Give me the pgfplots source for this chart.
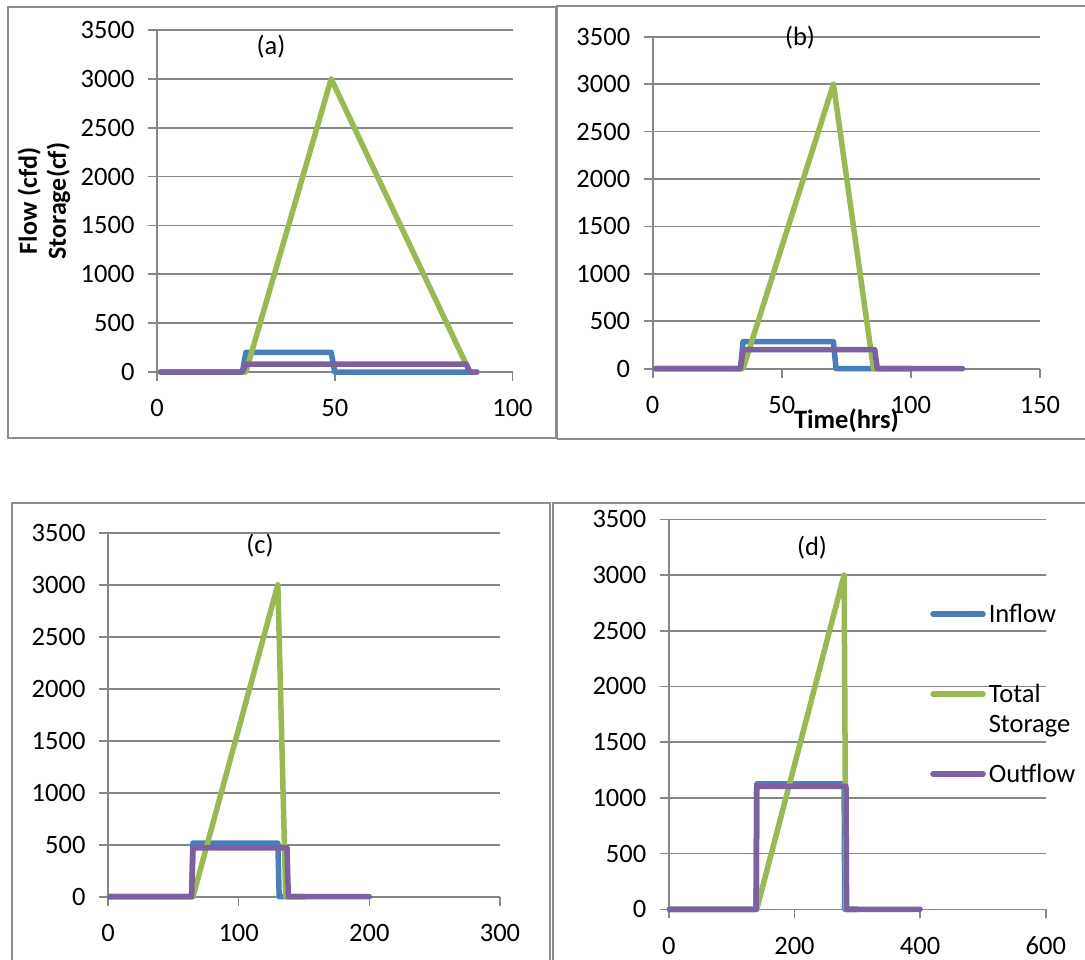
\documentclass[border=0pt]{standalone}
\usepackage{fontspec}
\setmainfont{Carlito}
\usepackage{pgfplots}
\pgfplotsset{compat=1.18}
\definecolor{cin}{HTML}{4A7EBB}
\definecolor{cst}{HTML}{98B954}
\definecolor{cout}{HTML}{7D60A0}
\definecolor{gridc}{HTML}{868686}
\definecolor{framec}{HTML}{8C8C8C}
\newcommand{\bigf}{\fontsize{26.5}{30}\selectfont}
\newcommand{\lgrow}[1]{\smash{#1}\rule[-62pt]{0pt}{80pt}}
\pgfplotsset{
  panel/.style={
    scale only axis, anchor=south west, clip=false,
    axis x line*=bottom, axis y line*=left, tick pos=left,
    xmin=0, ymin=0, ymax=3500, ytick={0,500,...,3500},
    ymajorgrids,
    grid style={gridc, line width=1.6pt},
    axis line style={gridc, line width=1.6pt},
    major tick style={gridc, line width=1.6pt},
    tick align=outside, major tick length=9pt,
    /pgf/number format/assume math mode=true,
    /pgf/number format/1000 sep={},
    tick label style={font=\bigf},
    yticklabel style={xshift=-10pt},
    xticklabel style={yshift=-15pt},
    every axis plot/.append style={line width=5.5pt, line join=round, line cap=round, no markers},
  }
}
\begin{document}
\begin{tikzpicture}
\useasboundingbox (0,0) rectangle (1085pt,-960pt);
\fill[white] (0,0) rectangle (1085pt,-960pt);
% frames
\draw[framec, line width=2pt] (8pt,-7pt) rectangle (556pt,-438pt);
\draw[framec, line width=2pt] (557pt,-439pt) -- (557pt,-6pt) -- (1090pt,-6pt);
\draw[framec, line width=2pt] (557pt,-439pt) -- (1090pt,-439pt);
\draw[framec, line width=2pt] (12pt,-970pt) -- (12pt,-503pt) -- (550pt,-503pt) -- (550pt,-970pt);
\draw[framec, line width=2pt] (553pt,-970pt) -- (553pt,-503pt) -- (1090pt,-503pt);

% (a)
\begin{axis}[panel, at={(157pt,-372pt)}, width=355.5pt, height=342pt, xmax=100, xtick={0,50,100}]
\addplot[cin] coordinates {(1,0)(24,0)(25,200)(49,200)(50,0)(88,0)};
\addplot[cst] coordinates {(1,0)(25,0)(49,3000)(88,0)(90,0)};
\addplot[cout] coordinates {(1,0)(24,0)(25,80)(87,80)(88,0)(90,0)};
\end{axis}

% (b)
\begin{axis}[panel, at={(652.7pt,-368.7pt)}, width=387.3pt, height=332pt, xmax=150, xtick={0,50,100,150}]
\addplot[cin] coordinates {(1,0)(34,0)(35,286)(70,286)(71,0)(100,0)};
\addplot[cst] coordinates {(1,0)(35,0)(70,3000)(85.5,0)(100,0)};
\addplot[cout] coordinates {(1,0)(34,0)(35,200)(86,200)(87,0)(120,0)};
\end{axis}

% (c)
\begin{axis}[panel, at={(108pt,-896.7pt)}, width=392pt, height=364pt, xmax=300, xtick={0,100,200,300}]
\addplot[cin] coordinates {(1,0)(64,0)(65,515)(130,515)(131,0)(150,0)};
\addplot[cst] coordinates {(1,0)(65,0)(130,3000)(136,0)(150,0)};
\addplot[cout] coordinates {(1,0)(64,0)(65,470)(137,470)(138,0)(200,0)};
\end{axis}

% (d)
\begin{axis}[panel, at={(668.8pt,-909.3pt)}, width=377pt, height=390pt, xmax=600, xtick={0,200,400,600},
  legend style={draw=none, fill=none, at={(0.693,0.783)}, anchor=north west, inner sep=0pt, row sep=0pt,
    font=\bigf, cells={anchor=west},
    nodes={inner xsep=3pt, inner ysep=0pt}},
  legend image code/.code={\path[draw=none, fill=none] (0pt,-70pt) rectangle (54pt,10pt);
    \draw[#1, line width=5.5pt, line cap=round] (2pt,0pt) -- (52pt,0pt);}]
\addplot[cin] coordinates {(1,0)(139,0)(140,1125)(279,1125)(280,0)(300,0)};
\addlegendentry{\lgrow{Inflow}}
\addplot[cst] coordinates {(1,0)(140,0)(279,3000)(282,0)(300,0)};
\addlegendentry{\lgrow{\vtop{\hbox{Total}\hbox{Storage}}}}
\addplot[cout] coordinates {(1,0)(139,0)(140,1103)(282,1103)(283,0)(400,0)};
\addlegendentry{\lgrow{Outflow}}
\end{axis}

% panel labels and axis titles
\node[font=\bigf] at (271pt,-47pt) {(a)};
\node[font=\bigf] at (800pt,-38pt) {(b)};
\node[font=\bigf] at (260pt,-546pt) {(c)};
\node[font=\bigf] at (812pt,-548pt) {(d)};
\node[rotate=90, align=center, font=\fontsize{26}{29}\selectfont\bfseries] at (44pt,-201pt) {Flow (cfd)\\Storage(cf)};
\node[font=\bigf\bfseries] at (846.5pt,-421pt) {Time(hrs)};
\end{tikzpicture}
\end{document}
